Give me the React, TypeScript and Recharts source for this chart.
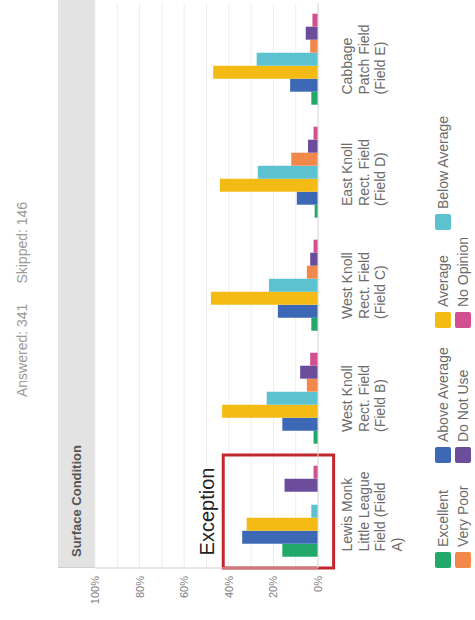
import { BarChart, Bar, XAxis, YAxis, CartesianGrid, ReferenceArea } from "recharts";

const categoryLines = [
  ["Lewis Monk", "Little League", "Field (Field", "A)"],
  ["West Knoll", "Rect. Field", "(Field B)"],
  ["West Knoll", "Rect. Field", "(Field C)"],
  ["East Knoll", "Rect. Field", "(Field D)"],
  ["Cabbage", "Patch Field", "(Field E)"],
];
const categories = categoryLines.map((lines) => lines.join(" "));

const excellent = [16, 2, 3, 1.5, 3];
const aboveAverage = [34, 16, 18, 9.5, 12.5];
const average = [32, 43, 48, 44, 47];
const belowAverage = [3, 23, 22, 27, 27.5];
const veryPoor = [0, 5, 5, 12, 3.5];
const doNotUse = [15, 8, 3.5, 4.5, 5.5];
const noOpinion = [2, 3.5, 2, 2, 2.5];

const valueTicks = [0, 10, 20, 30, 40, 50, 60, 70, 80, 90, 100];

const series = [
  { key: "excellent", name: "Excellent", color: "#22a86b", values: excellent },
  { key: "aboveAverage", name: "Above Average", color: "#3c68b6", values: aboveAverage },
  { key: "average", name: "Average", color: "#f3bb14", values: average },
  { key: "belowAverage", name: "Below Average", color: "#5cc2cf", values: belowAverage },
  { key: "veryPoor", name: "Very Poor", color: "#f2894a", values: veryPoor },
  { key: "doNotUse", name: "Do Not Use", color: "#6b4d9c", values: doNotUse },
  { key: "noOpinion", name: "No Opinion", color: "#d2508f", values: noOpinion },
];

const data = categories.map((category, i) => {
  const row: Record<string, string | number> = { category };
  series.forEach((s) => {
    row[s.key] = s.values[i];
  });
  return row;
});

const FONT = "'Liberation Sans', Arial, sans-serif";
const LABEL_FONT = `14px ${FONT}`;

let measureCtx: CanvasRenderingContext2D | null = null;
function textWidth(text: string) {
  if (!measureCtx) measureCtx = document.createElement("canvas").getContext("2d");
  if (!measureCtx) return text.length * 6.5;
  measureCtx.font = LABEL_FONT;
  return measureCtx.measureText(text).width;
}

function CategoryTick({ x, y, payload }: any) {
  const idx = categories.indexOf(payload.value);
  const lines = idx >= 0 ? categoryLines[idx] : [String(payload.value)];
  const widest = Math.max(...lines.map(textWidth));
  const left = x - widest / 2;
  return (
    <text x={left} y={y} fill="#6b6b6b" fontSize={14} fontFamily={FONT}>
      {lines.map((line, i) => (
        <tspan key={i} x={left} dy={i === 0 ? 26 : 16.5}>
          {line}
        </tspan>
      ))}
    </text>
  );
}

export default function App() {
  return (
    <div
      style={{
        position: "absolute",
        left: 0,
        top: 0,
        width: 475,
        height: 620,
        overflow: "hidden",
        background: "#fff",
      }}
    >
      <div
        style={{
          position: "absolute",
          left: 0,
          top: 0,
          width: 620,
          height: 475,
          transformOrigin: "0 0",
          transform: "translateY(620px) rotate(-90deg)",
          fontFamily: FONT,
        }}
      >
        <div
          style={{
            position: "absolute",
            left: 223,
            top: 14,
            fontSize: 14,
            lineHeight: "16px",
            color: "#9a9a9a",
            whiteSpace: "nowrap",
          }}
        >
          Answered: 341<span style={{ display: "inline-block", width: 20 }} />Skipped: 146
        </div>
        <div
          style={{
            position: "absolute",
            left: 52,
            top: 58,
            width: 568,
            height: 37,
            background: "#e3e3e3",
            borderLeft: "1px solid #cfcfcf",
            boxSizing: "border-box",
            paddingLeft: 10,
            fontSize: 13,
            fontWeight: 600,
            lineHeight: "37px",
            color: "#555",
          }}
        >
          Surface Condition
        </div>
        <div style={{ position: "absolute", left: 0, top: 0 }}>
          <BarChart
            width={620}
            height={475}
            data={data}
            margin={{ top: 95, right: 3, bottom: 47, left: 0 }}
            barGap={0}
            barCategoryGap="10%"
          >
            <CartesianGrid vertical={false} stroke="#eeeeee" />
            <XAxis
              dataKey="category"
              height={110}
              interval={0}
              tickLine={false}
              axisLine={{ stroke: "#dcdcdc" }}
              tick={<CategoryTick />}
            />
            <YAxis
              width={52}
              domain={[0, 100]}
              ticks={valueTicks}
              interval={0}
              tickLine={false}
              axisLine={{ stroke: "#d0d0d0" }}
              tick={{ fill: "#808080", fontSize: 11 }}
              tickFormatter={(v: number) => (v % 20 === 0 ? `${v}%` : "")}
            />
            {series.map((s) => (
              <Bar
                key={s.key}
                dataKey={s.key}
                name={s.name}
                fill={s.color}
                isAnimationActive={false}
              />
            ))}
            <ReferenceArea
              x1={categories[0]}
              x2={categories[0]}
              y1={-7}
              y2={42.5}
              ifOverflow="visible"
              fill="none"
              fillOpacity={0}
              stroke="#c4262e"
              strokeWidth={3}
              label={{
                value: "Exception",
                position: "top",
                offset: 9,
                fontSize: 20,
                fill: "#222",
              }}
            />
          </BarChart>
        </div>
        <div
          style={{
            position: "absolute",
            left: 52,
            top: 435,
            display: "grid",
            gridTemplateColumns: "105px 135px 98px auto",
            rowGap: 4,
          }}
        >
          {series.map((s) => (
            <div
              key={s.key}
              style={{ display: "flex", alignItems: "center", height: 16 }}
            >
              <span
                style={{
                  width: 16,
                  height: 16,
                  borderRadius: 2,
                  background: s.color,
                  marginRight: 5,
                  flex: "none",
                }}
              />
              <span style={{ fontSize: 14, color: "#6b6b6b", whiteSpace: "nowrap" }}>
                {s.name}
              </span>
            </div>
          ))}
        </div>
      </div>
    </div>
  );
}
